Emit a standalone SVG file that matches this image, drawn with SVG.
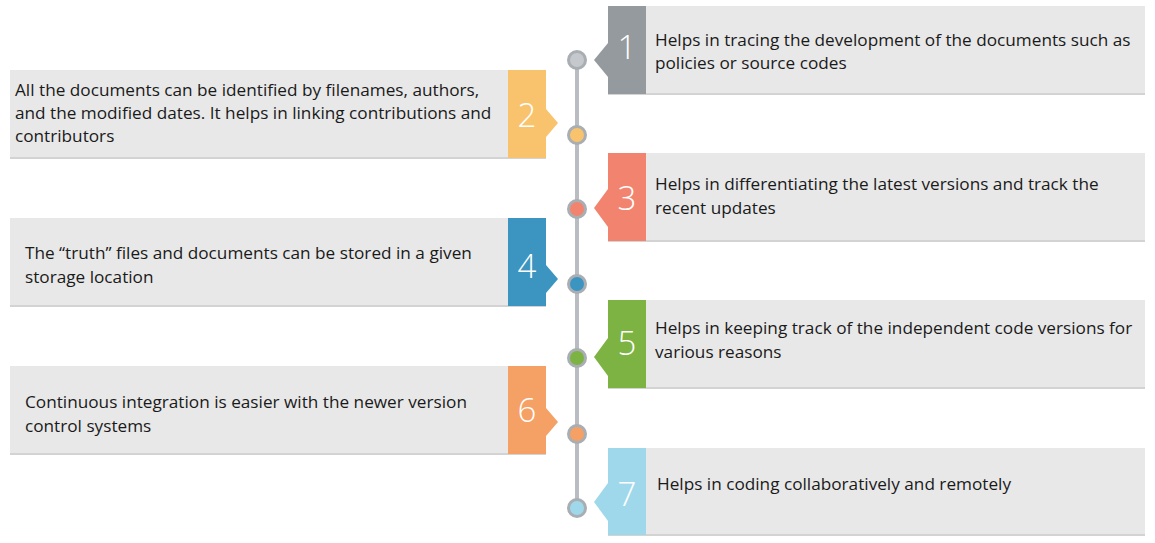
<svg xmlns="http://www.w3.org/2000/svg" width="1155" height="543" viewBox="0 0 1155 543">
<style>
.card{fill:#e8e8e8}
.edge{fill:#d3d3d3}
.txt{font-family:"Open Sans","Noto Sans","Liberation Sans",sans-serif;font-size:17.2px;fill:#1a1a1a}
.num{font-family:"Open Sans","Noto Sans","Liberation Sans",sans-serif;font-weight:300;font-size:33px;fill:#fff;text-anchor:middle}
.spine{stroke:#b9bdc2;stroke-width:4;fill:none}
.dot{stroke:#a9aeb3;stroke-width:3}
</style>
<rect width="1155" height="543" fill="#fff"/>
<g id="connectors">
<line class="spine" x1="577" y1="60" x2="577" y2="508"/>
</g>
<g id="node1">
<rect class="edge" x="608" y="6" width="537" height="89"/>
<rect class="card" x="608" y="6" width="537" height="87"/>
<rect x="608" y="6" width="38" height="88" fill="#959a9e"/>
<polygon points="608,43 594,60 608,77" fill="#959a9e"/>
<circle class="dot" cx="577" cy="60" r="8.5" fill="#c5c9cd"/>
<text class="num" x="627" y="59">1</text>
<text class="txt" x="655" y="46">Helps in tracing the development of the documents such as</text>
<text class="txt" x="655" y="69">policies or source codes</text>
</g>
<g id="node2">
<rect class="edge" x="10" y="70" width="536" height="89"/>
<rect class="card" x="10" y="70" width="536" height="87"/>
<rect x="508" y="70" width="38" height="88" fill="#f8c36c"/>
<polygon points="546,109 558,123 546,137" fill="#f8c36c"/>
<circle class="dot" cx="577" cy="135" r="8.5" fill="#f8c36c"/>
<text class="num" x="527" y="127">2</text>
<text class="txt" x="15" y="96">All the documents can be identified by filenames, authors,</text>
<text class="txt" x="15" y="119">and the modified dates. It helps in linking contributions and</text>
<text class="txt" x="15" y="142">contributors</text>
</g>
<g id="node3">
<rect class="edge" x="608" y="153" width="537" height="89"/>
<rect class="card" x="608" y="153" width="537" height="87"/>
<rect x="608" y="153" width="38" height="88" fill="#f2846f"/>
<polygon points="608,189 594,208 608,227" fill="#f2846f"/>
<circle class="dot" cx="577" cy="209" r="8.5" fill="#f2846f"/>
<text class="num" x="627" y="210">3</text>
<text class="txt" x="655" y="190">Helps in differentiating the latest versions and track the</text>
<text class="txt" x="655" y="214">recent updates</text>
</g>
<g id="node4">
<rect class="edge" x="10" y="218" width="536" height="89"/>
<rect class="card" x="10" y="218" width="536" height="87"/>
<rect x="508" y="218" width="38" height="88" fill="#3b95c0"/>
<polygon points="546,265 558,279 546,293" fill="#3b95c0"/>
<circle class="dot" cx="577" cy="284" r="8.5" fill="#3b95c0"/>
<text class="num" x="527" y="278">4</text>
<text class="txt" x="25" y="259">The “truth” files and documents can be stored in a given</text>
<text class="txt" x="25" y="283">storage location</text>
</g>
<g id="node5">
<rect class="edge" x="608" y="300" width="537" height="89"/>
<rect class="card" x="608" y="300" width="537" height="87"/>
<rect x="608" y="300" width="38" height="88" fill="#7cb342"/>
<polygon points="608,338 594,357 608,376" fill="#7cb342"/>
<circle class="dot" cx="577" cy="358" r="8.5" fill="#7cb342"/>
<text class="num" x="627" y="355">5</text>
<text class="txt" x="655" y="334">Helps in keeping track of the independent code versions for</text>
<text class="txt" x="655" y="358">various reasons</text>
</g>
<g id="node6">
<rect class="edge" x="10" y="366" width="536" height="89"/>
<rect class="card" x="10" y="366" width="536" height="87"/>
<rect x="508" y="366" width="38" height="88" fill="#f5a064"/>
<polygon points="546,408 558,422 546,436" fill="#f5a064"/>
<circle class="dot" cx="577" cy="434" r="8.5" fill="#f5a064"/>
<text class="num" x="527" y="422">6</text>
<text class="txt" x="25" y="408">Continuous integration is easier with the newer version</text>
<text class="txt" x="25" y="432">control systems</text>
</g>
<g id="node7">
<rect class="edge" x="608" y="448" width="537" height="88"/>
<rect class="card" x="608" y="448" width="537" height="86"/>
<rect x="608" y="448" width="38" height="87" fill="#9fd8eb"/>
<polygon points="608,483 594,502 608,521" fill="#9fd8eb"/>
<circle class="dot" cx="577" cy="508" r="8.5" fill="#9fd8eb"/>
<text class="num" x="627" y="506">7</text>
<text class="txt" x="657" y="490">Helps in coding collaboratively and remotely</text>
</g>
</svg>
